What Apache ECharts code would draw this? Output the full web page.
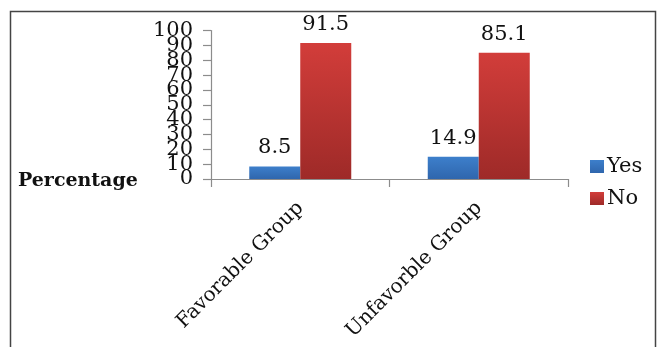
<!DOCTYPE html>
<html><head><meta charset="utf-8">
<script src="https://cdn.jsdelivr.net/npm/echarts@6/dist/echarts.min.js"></script>
<style>html,body{margin:0;padding:0;background:#fff}#c{width:658px;height:347px}</style>
</head><body><div id="c"></div>
<script>
const categories = ['Favorable Group', 'Unfavorble Group'];
const yesValues = [8.5, 14.9];
const noValues = [91.5, 85.1];
const yTicks = { min: 0, max: 100, interval: 10 };
const yTickLabels = ['0', '10', '20', '30', '40', '50', '60', '70', '80', '90', '100'];
const F = 'DejaVu Serif';
const chart = echarts.init(document.getElementById('c'));
chart.setOption({
  backgroundColor: '#fff',
  animation: false,
  textStyle: { fontFamily: F },
  title: { text: 'Percentage', left: 13, top: 167, textStyle: { fontFamily: F, fontSize: 19, fontWeight: 'bold', color: '#111' } },
  graphic: [{ type: 'rect', shape: { x: 10.5, y: 11.5, width: 645, height: 360 }, style: { fill: 'none', stroke: '#444', lineWidth: 1.5 }, silent: true }],
  legend: {
    orient: 'vertical', left: 585, top: 151, itemWidth: 14, itemHeight: 13, itemGap: 11,
    icon: 'rect', textStyle: { fontFamily: F, fontSize: 21, color: '#111', padding: [0,0,0,-2] },
    data: ['Yes', 'No']
  },
  grid: { left: 211, right: 90, top: 30.5, bottom: 168, containLabel: false },
  xAxis: {
    type: 'category', data: categories,
    axisLine: { lineStyle: { color: '#8c8c8c', width: 1.2 } },
    axisTick: { show: true, length: 8, lineStyle: { color: '#8c8c8c', width: 1.2 } },
    axisLabel: { rotate: 45, margin: 26, fontSize: 20, color: '#111', fontFamily: F, interval: 0 }
  },
  yAxis: [{
    type: 'value', min: yTicks.min, max: yTicks.max, interval: yTicks.interval,
    splitLine: { show: false },
    axisLine: { show: true, lineStyle: { color: '#8c8c8c', width: 1.2 } },
    axisTick: { show: true, length: 8, lineStyle: { color: '#8c8c8c', width: 1.2 } },
    axisLabel: { show: false }
  }, {
    type: 'category', data: yTickLabels, boundaryGap: false, position: 'left',
    axisLine: { show: false }, axisTick: { show: false }, splitLine: { show: false },
    axisLabel: { interval: 0, margin: 18, fontSize: 21, color: '#111', fontFamily: F, hideOverlap: false }
  }],
  series: [
    { name: 'Yes', type: 'bar', data: yesValues, barWidth: 51, barGap: '0%', yAxisIndex: 0,
      itemStyle: { color: new echarts.graphic.LinearGradient(0,0,0,1,[{offset:0,color:'#3d7fcb'},{offset:1,color:'#2f66ad'}]) },
      label: { show: true, position: 'top', distance: 8, fontSize: 21, color: '#111', fontFamily: F } },
    { name: 'No', type: 'bar', data: noValues, barWidth: 51, barGap: '0%', yAxisIndex: 0,
      itemStyle: { color: new echarts.graphic.LinearGradient(0,0,0,1,[{offset:0,color:'#d23d3a'},{offset:1,color:'#9e2a28'}]) },
      label: { show: true, position: 'top', distance: 8, fontSize: 21, color: '#111', fontFamily: F } }
  ]
});
</script></body></html>
